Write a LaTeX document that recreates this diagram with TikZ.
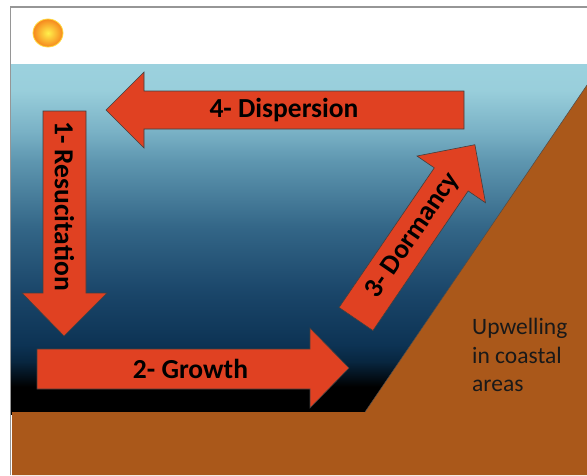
\documentclass[tikz,border=0pt]{standalone}
\usepackage{fontspec}
\setmainfont{Carlito}
\usepackage{xcolor}
\usepackage{tikz}
\usetikzlibrary{calc}

\definecolor{arrowred}{RGB}{224,65,34}
\definecolor{soil}{RGB}{170,88,26}
\definecolor{framegray}{RGB}{150,150,150}
\definecolor{sunyellow}{RGB}{255,240,75}
\definecolor{sunorange}{RGB}{246,135,30}

% light surface water down to black at the bottom
\pgfdeclareverticalshading{seawater}{100bp}{%
  rgb(0bp)=(0,0,0); rgb(25bp)=(0,0,0); rgb(28.9bp)=(0,0,0);
  rgb(32.5bp)=(0.03,0.15,0.25); rgb(34.9bp)=(0.05,0.2,0.33);
  rgb(42.1bp)=(0.1,0.27,0.41); rgb(51.6bp)=(0.2,0.4,0.53);
  rgb(61.2bp)=(0.37,0.59,0.69); rgb(65.1bp)=(0.47,0.69,0.77);
  rgb(71.3bp)=(0.6,0.81,0.86); rgb(75bp)=(0.61,0.82,0.87);
  rgb(100bp)=(0.61,0.82,0.87)}

\tikzset{
  blockarrow/.style={fill=arrowred, draw=black!75, line width=0.6pt, line join=miter},
  steplabel/.style={font=\bfseries\fontsize{27.5}{30}\selectfont, text=black, inner sep=0pt},
}

\begin{document}
\begin{tikzpicture}[x=1pt, y=-1pt]
    \useasboundingbox (0,0) rectangle (587,475);
    \fill[white] (0,0) rectangle (587,475);

    % sea and sea floor
    \shade[shading=seawater] (11,64) rectangle (587,414);
    \coordinate (shelf) at (365,412);
    \coordinate (coast) at (587,85);
    \fill[soil] (12,412) -- (shelf) -- (coast) -- (587,475) -- (12,475) -- cycle;
    \draw[black!70, line width=0.5pt] (shelf) -- (coast);

    % sun
    \shadedraw[inner color=sunyellow, outer color=sunorange, draw=sunyellow!80!orange, line width=0.8pt]
        (48,33) ellipse [x radius=15, y radius=14];

    % 1 down
    \filldraw[blockarrow] (43,111) -- (86,111) -- (86,293) -- (107,293)
        -- (64,336) -- (22,293) -- (43,293) -- cycle;
    \node[steplabel, rotate=-90] (resus) at (64.5,206) {1- Resucitation};

    % 2 right
    \filldraw[blockarrow] (37,349) -- (310,349) -- (310,328) -- (349,368)
        -- (310,408) -- (310,389) -- (37,389) -- cycle;
    \node[steplabel] (growth) at (190.5,369) {2- Growth};

    % 3 up the slope
    \coordinate (dtail) at (356,319);
    \begin{scope}[shift={(dtail)}, rotate=55.7]
        \filldraw[blockarrow] (0,-20.5) -- (169,-20.5) -- (169,-41.5) -- (211,0)
            -- (169,41.5) -- (169,20.5) -- (0,20.5) -- cycle;
        \coordinate (dmid) at (101,0);
    \end{scope}
    \node[steplabel, rotate=55.7] (dormancy) at (dmid) {3- Dormancy};

    % 4 left
    \filldraw[blockarrow] (464,91) -- (144,91) -- (144,72) -- (106,110)
        -- (144,148) -- (144,129) -- (464,129) -- cycle;
    \node[steplabel] (dispersal) at (284,110) {4- Dispersion};

    \node[anchor=north west, align=left, inner sep=0pt, text=black!90,
          font=\fontsize{23.5}{28.5}\selectfont] (upwell) at (472,318)
        {Upwelling\\in coastal\\areas};

    \draw[framegray, line width=1.2pt] (10.5,475) -- (10.5,7) -- (587,7);
\end{tikzpicture}
\end{document}
